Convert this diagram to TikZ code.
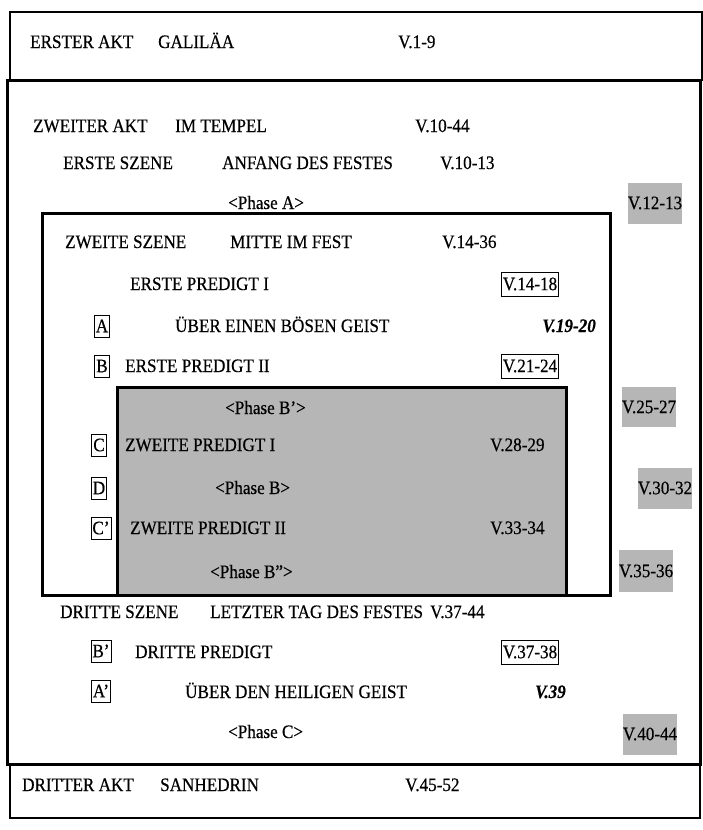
\documentclass[tikz,border=0pt]{standalone}
\usepackage{fontspec}
\setmainfont{Liberation Serif}[FakeStretch=0.9,FakeBold=0.5]
\usetikzlibrary{positioning}
\definecolor{halftone}{RGB}{182,182,182}
\tikzset{
  txt/.style={anchor=base west,inner sep=0pt,font=\fontsize{19}{22}\selectfont},
  keyverse/.style={txt,font=\fontsize{19}{22}\selectfont\bfseries\itshape},
  versebox/.style={txt,anchor=center,draw,line width=0.8pt,inner xsep=1pt,minimum height=24pt},
  letterbox/.style={txt,anchor=center,draw,line width=0.8pt,inner xsep=1.5pt,minimum height=22pt},
  shadebox/.style={txt,anchor=center,fill=halftone,inner xsep=0pt,minimum width=54pt,minimum height=41pt},
  thinframe/.style={line width=1.2pt},
  thickframe/.style={line width=3pt},
  shadedframe/.style={fill=halftone,draw=black,line width=3pt}
}

\begin{document}
\begin{tikzpicture}[x=1pt,y=-1pt]
  \useasboundingbox (0,0) rectangle (703,830);

  % frames
  \filldraw[shadedframe] (117,387) rectangle (566,595);
  \draw[thinframe] (10,12) rectangle (702,80);
  \draw[thinframe] (10,764) rectangle (700,818);
  \draw[thickframe] (7,80) rectangle (700,764);
  \draw[thickframe] (42,213) rectangle (610,595);

  % erster akt
  \node[txt] (akt1) at (30,48) {ERSTER AKT};
  \node[txt] (ort1) at (158,48) {GALILÄA};
  \node[txt] (v1) at (398,48) {V.1-9};

  % zweiter akt
  \node[txt] (akt2) at (33,132) {ZWEITER AKT};
  \node[txt] (ort2) at (175,132) {IM TEMPEL};
  \node[txt] (v2) at (415,132) {V.10-44};

  \node[txt] (sz1) at (63,169) {ERSTE SZENE};
  \node[txt] (sz1t) at (222,169) {ANFANG DES FESTES};
  \node[txt] (sz1v) at (440,169) {V.10-13};
  \node[txt] (phA) at (228,209) {<Phase A>};
  \node[shadebox] (vA) at (655,203) {V.12-13};

  \node[txt] (sz2) at (65,248) {ZWEITE SZENE};
  \node[txt] (sz2t) at (230,248) {MITTE IM FEST};
  \node[txt] (sz2v) at (442,248) {V.14-36};

  \node[txt] (pr1) at (130,290) {ERSTE PREDIGT I};
  \node[versebox] (pr1v) at (530,284) {V.14-18};
  \node[letterbox] (lA) at (102,326) {A};
  \node[txt] (geist1) at (175,332) {ÜBER EINEN BÖSEN GEIST};
  \node[keyverse,anchor=base east] (geist1v) at (596,332) {V.19-20};
  \node[letterbox] (lB) at (102,366) {B};
  \node[txt] (pr1b) at (125,372) {ERSTE PREDIGT II};
  \node[versebox] (pr1bv) at (530,366) {V.21-24};

  \node[txt] (phB1) at (225,414) {<Phase B’>};
  \node[shadebox,minimum height=40pt] (vB1) at (649,407) {V.25-27};
  \node[letterbox] (lC) at (99,445) {C};
  \node[txt] (pr2) at (125,451) {ZWEITE PREDIGT I};
  \node[txt] (pr2v) at (490,451) {V.28-29};
  \node[letterbox] (lD) at (99,488) {D};
  \node[txt] (phB) at (215,494) {<Phase B>};
  \node[shadebox] (vB) at (665,488) {V.30-32};
  \node[letterbox] (lC2) at (101,528) {C’};
  \node[txt] (pr2b) at (130,534) {ZWEITE PREDIGT II};
  \node[txt] (pr2bv) at (490,534) {V.33-34};
  \node[txt] (phB2) at (210,578) {<Phase B”>};
  \node[shadebox,minimum height=42pt] (vB2) at (646,571) {V.35-36};

  \node[txt] (sz3) at (60,618) {DRITTE SZENE};
  \node[txt] (sz3t) at (210,618) {LETZTER TAG DES FESTES};
  \node[txt] (sz3v) at (430,618) {V.37-44};
  \node[letterbox] (lB2) at (101,651) {B’};
  \node[txt] (pr3) at (135,658) {DRITTE PREDIGT};
  \node[versebox] (pr3v) at (530,652) {V.37-38};
  \node[letterbox] (lA2) at (101,691) {A’};
  \node[txt] (geist2) at (185,698) {ÜBER DEN HEILIGEN GEIST};
  \node[keyverse] (geist2v) at (535,698) {V.39};
  \node[txt] (phC) at (228,738) {<Phase C>};
  \node[shadebox] (vC) at (650,734) {V.40-44};

  % dritter akt
  \node[txt] (akt3) at (22,791) {DRITTER AKT};
  \node[txt] (ort3) at (160,791) {SANHEDRIN};
  \node[txt] (v3) at (405,791) {V.45-52};
\end{tikzpicture}
\end{document}
